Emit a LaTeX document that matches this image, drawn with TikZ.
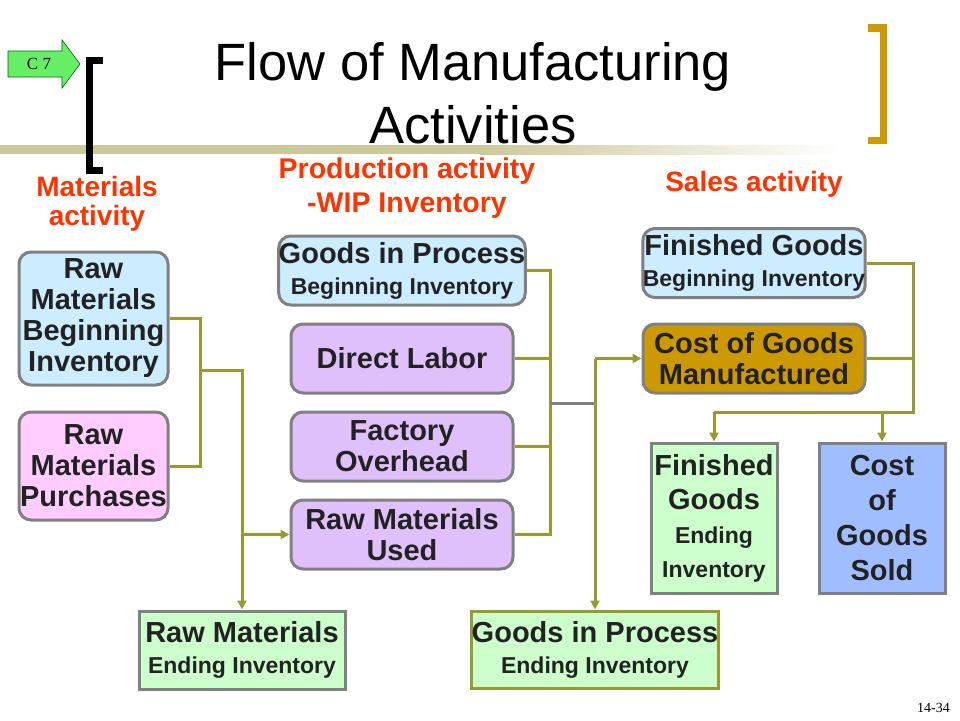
\documentclass[tikz,border=0pt]{standalone}
\usepackage{fontspec}
\setmainfont{Liberation Sans}
\newfontfamily\notefont{Liberation Serif}
\usetikzlibrary{arrows.meta}
\definecolor{olivebar}{RGB}{153,153,51}
\definecolor{tanbar}{RGB}{204,201,153}
\definecolor{goldfill}{RGB}{204,153,0}
\definecolor{boxgray}{RGB}{128,128,128}
\definecolor{skyfill}{RGB}{204,236,255}
\definecolor{pinkfill}{RGB}{255,204,255}
\definecolor{lilacfill}{RGB}{224,192,250}
\definecolor{mintfill}{RGB}{204,255,204}
\definecolor{periwinkle}{RGB}{160,190,255}
\definecolor{headred}{RGB}{255,51,0}
\definecolor{inktext}{RGB}{34,34,34}
\definecolor{tabgreen}{RGB}{102,238,102}
\newcommand\subfont{\fontsize{23}{29}\selectfont}

\begin{document}
\begin{tikzpicture}[x=1pt, y=-1pt, node distance=88pt,
  box/.style={draw=boxgray, line width=3pt, rounded corners=12pt, minimum width=222pt, minimum height=69pt, inner sep=0pt, align=center, text=inktext, font=\bfseries\fontsize{29}{31}\selectfont},
  sqbox/.style={box, rounded corners=0pt},
  conn/.style={draw=olivebar, line width=3pt},
  arr/.style={conn, -{Triangle[length=9pt,width=9pt]}},
  head/.style={text=headred, align=center, inner sep=0pt, font=\bfseries\fontsize{28}{29}\selectfont}]
  \useasboundingbox (0,0) rectangle (960,720);

  \fill[tanbar] (0,145) rectangle (480,154);
  \shade[left color=tanbar, right color=white] (480,145) rectangle (840,154);
  \draw[line width=7pt] (103,60) -- (89,60) -- (89,170) -- (103,170);
  \draw[goldfill, line width=7.5pt] (868,28) -- (883.5,28) -- (883.5,140.5) -- (868,140.5);
  \draw[fill=tabgreen, draw=green!40!black, line width=0.6pt] (8,51) -- (62,51) -- (62,40) -- (80,64) -- (62,88) -- (62,77) -- (8,77) -- cycle;
  \node[font=\notefont\fontsize{17}{17}\selectfont] (tab) at (39,64) {C 7};

  \node[inner sep=0pt, align=center, font=\fontsize{52.5}{63}\selectfont] (title) at (473,93) {Flow of Manufacturing\\Activities};
  \node[head] (matact) at (97,203.5) {Materials\\activity};
  \node[head, font=\bfseries\fontsize{28.5}{34}\selectfont] (prodact) at (407,188) {Production activity\\-WIP Inventory};
  \node[head] (salesact) at (754,184) {Sales activity};

  \node[box, fill=skyfill, minimum width=149pt, minimum height=133pt] (rmbi) at (93.5,318.5) {Raw\\Materials\\Beginning\\Inventory};
  \node[box, fill=pinkfill, minimum width=149pt, minimum height=108pt] (rmp) at (93.5,466) {Raw\\Materials\\Purchases};
  \node[box, fill=skyfill, minimum width=238pt] (gipbi) at (402,270.5) {Goods in Process\\{\subfont Beginning Inventory}};
  \node[box, fill=lilacfill] (dl) at (402,358.5) {Direct Labor};
  \node[box, fill=lilacfill, below of=dl] (fo) {Factory\\Overhead};
  \node[box, fill=lilacfill, below of=fo] (rmu) {Raw Materials\\Used};
  \node[sqbox, fill=mintfill, minimum width=206pt, minimum height=78pt] (rmei) at (242,650) {Raw Materials\\{\subfont Ending Inventory}};
  \node[sqbox, draw=olivebar, fill=mintfill, minimum width=247pt, minimum height=77pt] (gipei) at (595,649.5) {Goods in Process\\{\subfont Ending Inventory}};
  \node[box, fill=skyfill] (fgbi) at (754,263) {Finished Goods\\{\subfont Beginning Inventory}};
  \node[box, fill=goldfill] (cogm) at (754,358.5) {Cost of Goods\\Manufactured};
  \node[sqbox, fill=mintfill, minimum width=126pt, minimum height=150pt, font=\bfseries\fontsize{29}{34}\selectfont] (fgei) at (714,518) {Finished\\Goods\\{\subfont Ending}\\{\subfont Inventory}};
  \node[sqbox, fill=periwinkle, minimum width=126pt, minimum height=150pt, font=\bfseries\fontsize{29}{35}\selectfont] (cogs) at (882,518) {Cost\\of\\Goods\\Sold};

  \coordinate (rmbus) at (200,466);
  \coordinate (rmtap) at (200,370);
  \coordinate (rmusrc) at (244,534.5);
  \draw[conn] (rmbi.east) -| (rmbus) -- (rmp.east);
  \draw[arr] (rmtap) -| (rmei.north);
  \draw[arr] (rmusrc) -- (rmu.west);

  \coordinate (wipbus) at (550,534.5);
  \coordinate (wipmid) at (550,403);
  \coordinate (cgmbus) at (595,403);
  \draw[conn] (gipbi.east) -| (wipbus) -- (rmu.east);
  \draw[conn] (dl.east) -- (dl.east -| wipbus);
  \draw[conn] (fo.east) -- (fo.east -| wipbus);
  \draw[draw=boxgray, line width=3pt] (wipmid) -- (cgmbus);
  \draw[arr] (cgmbus |- cogm.west) -- (cogm.west);
  \draw[arr] (cgmbus |- cogm.west) -- (gipei.north);

  \coordinate (fgbus) at (913,412);
  \draw[conn] (fgbi.east) -| (fgbus) -- (fgbus -| fgei.north);
  \draw[conn] (cogm.east) -- (cogm.east -| fgbus);
  \draw[arr] (fgbus -| fgei.north) -- (fgei.north);
  \draw[arr] (fgbus -| cogs.north) -- (cogs.north);

  \node[anchor=base east, inner sep=0pt, font=\notefont\fontsize{14}{14}\selectfont] (pageno) at (950,712) {14-34};
\end{tikzpicture}
\end{document}
